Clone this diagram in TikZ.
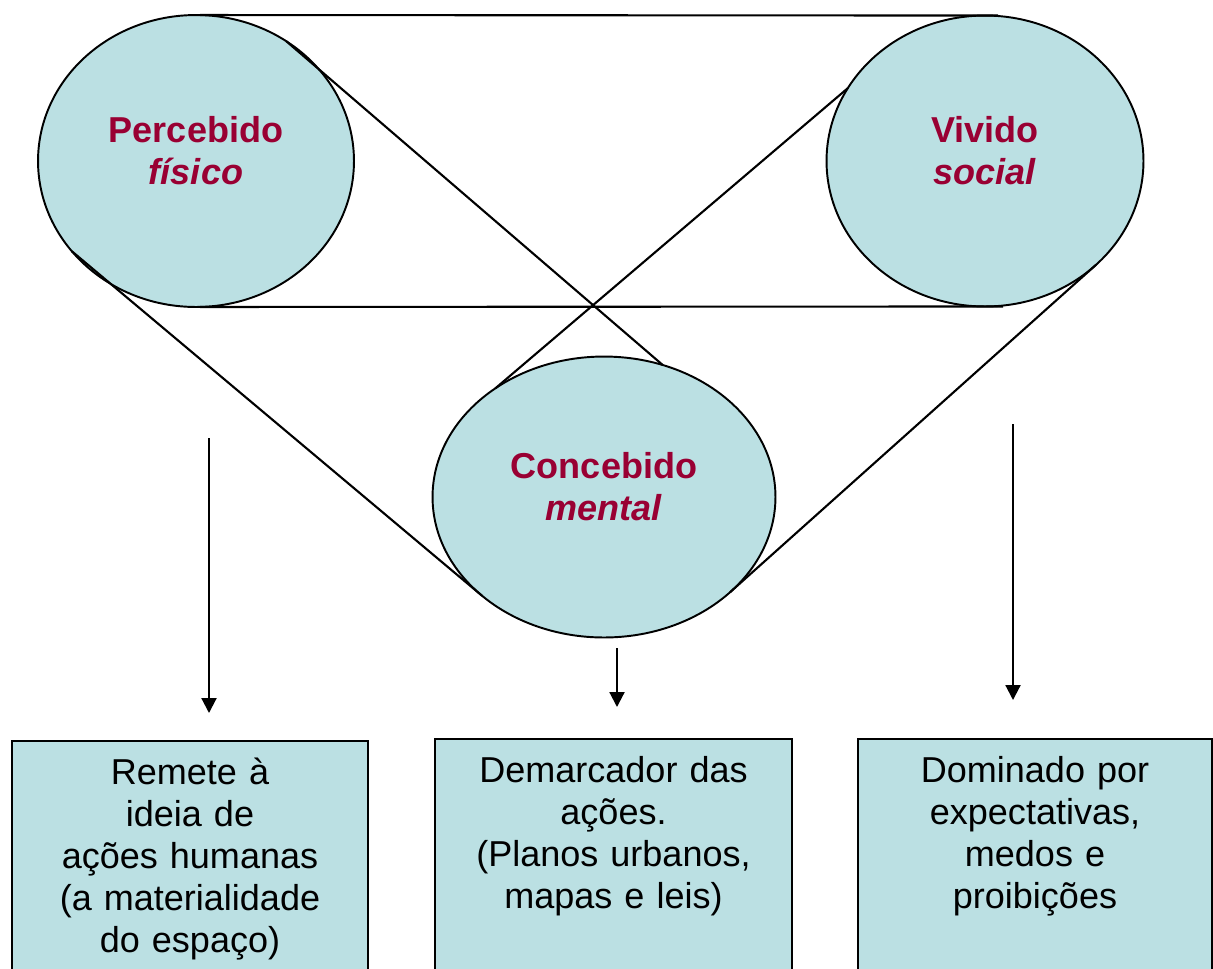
\documentclass[tikz,border=0pt]{standalone}
\usepackage{fontspec}
\setmainfont{Liberation Sans}
\usepackage{tikz}
\usetikzlibrary{shapes.geometric}
\usetikzlibrary{arrows.meta}
\definecolor{agua}{RGB}{187,224,227}
\definecolor{vinho}{RGB}{153,0,51}
\tikzset{esp/.style={ellipse, draw, line width=1.1pt, fill=agua, inner sep=0pt, outer sep=0pt,
  align=center, text=vinho, text height=30pt, text depth=2.8pt,
  font=\fontsize{20.5}{24.4}\selectfont\bfseries}}
\tikzset{caixa/.style={rectangle, draw, line width=1.1pt, fill=agua, anchor=north, inner sep=0pt,
  outer sep=0pt, align=center, text height=25pt, text depth=125pt,
  font=\fontsize{20.5}{23.8}\selectfont}}
\tikzset{reta/.style={line width=1.2pt}}
\tikzset{seta/.style={line width=1.2pt, -{Triangle[length=8.5pt,width=8.5pt]}}}

\begin{document}
\begin{tikzpicture}[x=0.02cm, y=-0.02cm]
        \clip (0,0) rectangle (1213,968);
        \node[esp, minimum width=6.32cm, minimum height=5.84cm] (P) at (196,161) {Percebido\\\textit{físico}};
        \node[esp, minimum width=6.34cm, minimum height=5.82cm] (V) at (985,161) {Vivido\\\textit{social}};
        \node[esp, minimum width=6.86cm, minimum height=5.62cm] (C) at (604,497) {Concebido\\\textit{mental}};
        \draw[reta] ([xshift=0.08cm]P.north) -- ([xshift=0.26cm]V.north);
        \draw[reta] ([xshift=0.08cm]P.south) -- ([xshift=0.36cm]V.south);
        \draw[reta] (P.53) -- (C.66);
        \draw[reta] (V.152) -- (C.135);
        \draw[reta] (P.216) -- (C.219);
        \draw[reta] (V.-43) -- (C.-37);
        \node[caixa, text width=7.12cm] (R) at (190,741) {Remete à\\ideia de\\ações humanas\\(a materialidade\\do espaço)};
        \node[caixa, text width=7.14cm] (D) at (613.5,739) {Demarcador das\\ações.\\(Planos urbanos,\\mapas e leis)};
        \node[caixa, text width=7.08cm] (M) at (1035,739) {Dominado por\\expectativas,\\medos e\\proibições};
        \coordinate (s1) at (209,438);
        \coordinate (e1) at (209,713);
        \coordinate (s2) at (617,648);
        \coordinate (e2) at (617,707);
        \coordinate (s3) at (1013,424);
        \coordinate (e3) at (1013,700);
        \draw[seta] (s1) -- (e1);
        \draw[seta] (s2) -- (e2);
        \draw[seta] (s3) -- (e3);
      \end{tikzpicture}
\end{document}
